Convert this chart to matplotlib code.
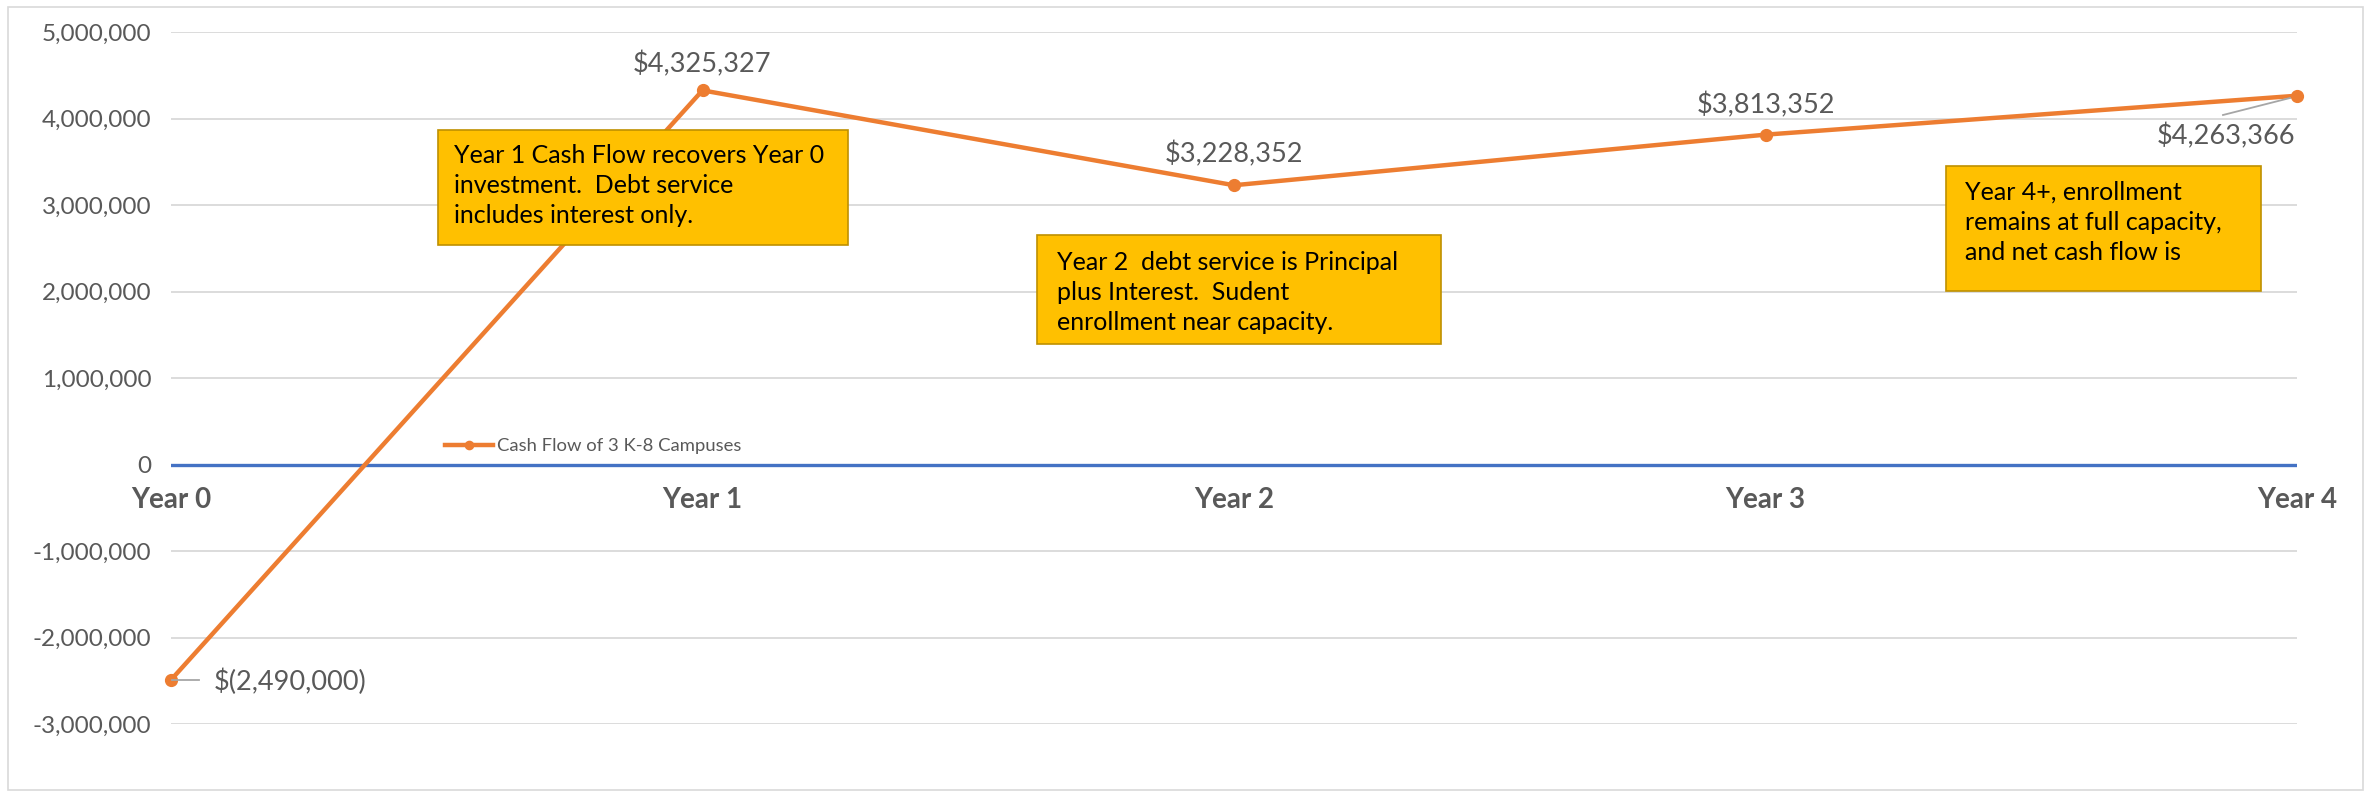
import matplotlib
matplotlib.use("Agg")
import matplotlib.pyplot as plt
from matplotlib.ticker import FuncFormatter, MultipleLocator
from matplotlib.patches import Rectangle

plt.rcParams['font.family'] = ['Lato', 'DejaVu Sans']

years = ["Year 0", "Year 1", "Year 2", "Year 3", "Year 4"]
cash_flow = [-2490000, 4325327, 3228352, 3813352, 4263366]
point_labels = ["$(2,490,000)", "$4,325,327", "$3,228,352", "$3,813,352", "$4,263,366"]
series_name = "Cash Flow of 3 K-8 Campuses"
notes = [
    "Year 1 Cash Flow recovers Year 0\ninvestment.  Debt service\nincludes interest only.",
    "Year 2  debt service is Principal\nplus Interest.  Sudent\nenrollment near capacity.",
    "Year 4+, enrollment\nremains at full capacity,\nand net cash flow is",
]

W, H = 2371, 795
fig = plt.figure(figsize=(W / 100, H / 100), dpi=100)

def fx(px):
    return px / W

def fy(py):
    return 1 - py / H

# axes placed so the category points sit where they do in the original
ax = fig.add_axes([fx(171), fy(724), fx(2297) - fx(171), fy(32) - fy(724)])
ax.set_xlim(0, len(years) - 1)
ax.set_ylim(-3000000, 5000000)

orange = "#ED7D31"
grey_txt = "#595959"

ax.yaxis.set_major_locator(MultipleLocator(1000000))
ax.yaxis.set_major_formatter(FuncFormatter(lambda v, p: f"{v:,.0f}"))
ax.grid(axis="y", color="#D9D9D9", linewidth=1.3)
ax.set_axisbelow(True)
ax.tick_params(axis="y", length=0, pad=14, labelsize=17.5, labelcolor=grey_txt)
ax.tick_params(axis="x", length=0, labelbottom=False)
for s in ax.spines.values():
    s.set_visible(False)

ax.axhline(0, color="#4472C4", linewidth=2.4, zorder=2)

xs = list(range(len(years)))
line, = ax.plot(xs, cash_flow, color=orange, linewidth=3.2, marker="o",
                markersize=8.5, label=series_name, zorder=3, clip_on=False)

# category labels just under the zero line
for i, name in enumerate(years):
    ax.annotate(name, xy=(i, 0), xytext=(0, -36), textcoords="offset pixels",
                ha="center", va="center", fontsize=20, fontweight="bold",
                color=grey_txt, annotation_clip=False)

# data labels
offsets = [(43, -2), (0, 26), (0, 31), (0, 29), (-2, -40)]
aligns = ["left", "center", "center", "center", "right"]
for i, (v, lab) in enumerate(zip(cash_flow, point_labels)):
    dx, dy = offsets[i]
    ax.annotate(lab, xy=(i, v), xytext=(dx, dy), textcoords="offset pixels",
                ha=aligns[i], va="center", fontsize=19.5, color=grey_txt,
                annotation_clip=False)

# leader lines
fig.add_artist(plt.Line2D([fx(172), fx(199)], [fy(680), fy(680)],
                          color="#A6A6A6", linewidth=1.3))
fig.add_artist(plt.Line2D([fx(2223), fx(2290)], [fy(115), fy(98)],
                          color="#A6A6A6", linewidth=1.3))

ax.legend(handles=[line], loc="center left", frameon=False,
          bbox_to_anchor=(fx(428), fy(446)), bbox_transform=fig.transFigure,
          fontsize=13.3, handlelength=2.6, handletextpad=0.25, labelcolor=grey_txt,
          markerscale=0.7)

# note boxes
boxes = [(438, 130, 848, 245), (1037, 235, 1441, 344), (1946, 166, 2261, 291)]
text_pos = [(454, 153), (1057, 260), (1965, 190)]
for (x0, y0, x1, y1), (tx, ty), note in zip(boxes, text_pos, notes):
    fig.add_artist(Rectangle((fx(x0), fy(y1)), fx(x1) - fx(x0), fy(y0) - fy(y1),
                             transform=fig.transFigure, facecolor="#FFC000",
                             edgecolor="#BF9000", linewidth=1.2, zorder=5))
    fig.text(fx(tx), fy(ty - 9), note, ha="left", va="top", fontsize=18,
             color="black", linespacing=1.36, zorder=6)

# outer chart border
fig.add_artist(Rectangle((fx(8), fy(790)), fx(2363) - fx(8), fy(7) - fy(790),
                         transform=fig.transFigure, fill=False,
                         edgecolor="#D9D9D9", linewidth=1.2))

fig.savefig("out.png", dpi=100)
